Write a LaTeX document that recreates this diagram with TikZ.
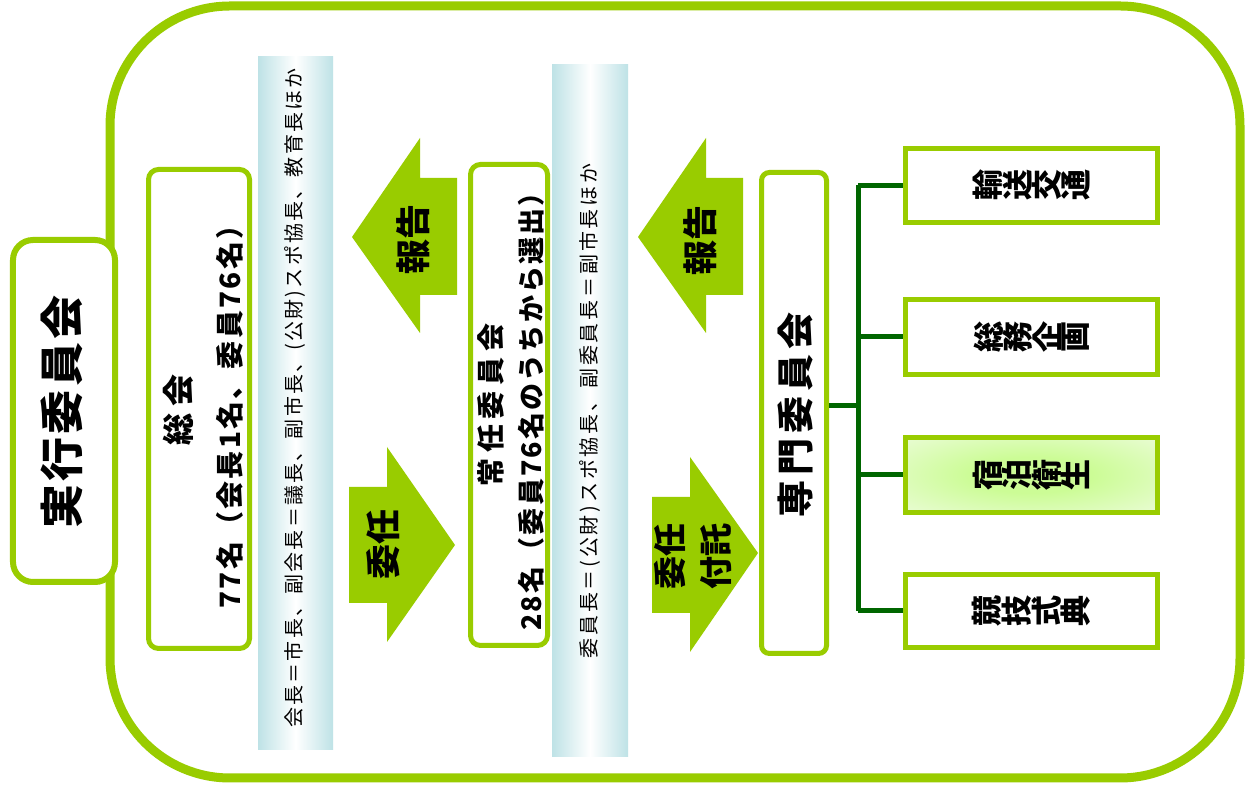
\documentclass[tikz,border=0pt]{standalone}
\usepackage{fontspec}
\setmainfont{Noto Sans CJK JP}
\definecolor{lgreen}{HTML}{99CC00}
\definecolor{dgreen}{HTML}{006600}
\definecolor{bandblue}{RGB}{190,226,230}
\definecolor{innerg}{RGB}{204,252,150}
\definecolor{outerg}{RGB}{236,252,218}
\pgfdeclareradialshading{boxglow}{\pgfpoint{0bp}{0bp}}{color(0bp)=(innerg); color(12bp)=(innerg); color(38bp)=(outerg); color(50bp)=(outerg)}
\newcommand{\fs}[2]{\fontsize{#1bp}{#2bp}\selectfont}
\newcommand{\ls}[1]{\addfontfeature{LetterSpace=#1}}
\newcommand{\rc}[1]{\rotatebox{90}{#1}}
\begin{document}
\begin{tikzpicture}[x=1bp,y=1bp,
  gbox/.style={draw=lgreen, line width=5bp, fill=white, rounded corners=10bp, inner sep=0pt},
  subbox/.style={draw=lgreen, line width=5bp, fill=white, minimum width=252bp, inner sep=0pt},
  arrowshape/.style={fill=lgreen, draw=none},
  tree/.style={draw=dgreen, line width=5bp},
  vtext/.style={rotate=90, align=center, inner sep=0pt, text=black},
  band/.style={left color=bandblue, right color=bandblue, middle color=white, draw=none}
]
\useasboundingbox (0,0) rectangle (1247,787);
\fill[white] (0,0) rectangle (1247,787);
% outer frame
\draw[lgreen, line width=9bp, rounded corners=120bp] (110,9) rectangle (1240,781);
% left box
\node[gbox, line width=6bp, rounded corners=20bp, minimum width=102bp, minimum height=342bp] (jikko) at (64,376) {};
\node[vtext, font=\bfseries\fs{44}{50}\ls{7}] (jikkot) at (62,375) {実行委員会};
% bands
\path[band] (258,37) rectangle (333,730);
\path[band] (552,30) rectangle (628,722);
\node[vtext, font=\fs{20}{24}\ls{11}] (band1) at (295,389) {会長＝市長、副会長＝議長、副市長、(公財)スポ協長、教育長ほか};
\node[vtext, font=\fs{20}{24}\ls{14}] (band2) at (590,376) {委員長＝(公財)スポ協長、副委員長＝副市長ほか};
% main boxes
\node[gbox, minimum width=101bp, minimum height=479bp] (sokai) at (199,378) {};
\node[vtext, font=\bfseries\fs{28}{50}\ls{8}] (sokait) at (203,377) {{\fs{32}{50}\ls{25}総会}\\77名（会長1名、委員76名）};
\node[gbox, minimum width=77bp, minimum height=481bp] (joninn) at (509,382) {};
\node[vtext, font=\bfseries\fs{27}{40}\ls{8}] (joninnt) at (511,382) {{\fs{28}{40}\ls{20}常任委員会}\\28名（委員76名のうちから選出）};
\node[gbox, rounded corners=8bp, minimum width=65bp, minimum height=481bp] (senmon) at (794,374) {};
\node[vtext, font=\bfseries\fs{37}{42}\ls{13}] (senmont) at (795,372) {専門委員会};
% arrows
\path[arrowshape] (352,550) -- (420,649) -- (420,609) -- (457,609) -- (457,492) -- (420,492) -- (420,454) -- cycle;
\path[arrowshape] (349,300) -- (387,300) -- (387,340) -- (455,242) -- (387,145) -- (387,184) -- (349,184) -- cycle;
\path[arrowshape] (638,550) -- (706,649) -- (706,609) -- (743,609) -- (743,492) -- (706,492) -- (706,454) -- cycle;
\path[arrowshape] (652,290) -- (690,290) -- (690,330) -- (758,234) -- (690,135) -- (690,174) -- (652,174) -- cycle;
\node[vtext, font=\bfseries\fs{35}{40}] (rep1) at (413,547) {報告};
\node[vtext, font=\bfseries\fs{35}{40}] (del1) at (383,242) {委任};
\node[vtext, font=\bfseries\fs{35}{40}] (rep2) at (700,546) {報告};
\node[vtext, font=\bfseries\fs{33}{46}] (del2) at (693,230) {委任\\付託};
% sub boxes
\node[subbox, minimum height=74bp] (b1) at (1031.5,601.5) {};
\node[subbox, minimum height=75bp] (b2) at (1031.5,450) {};
\node[subbox, minimum height=75bp, shading=boxglow] (b3) at (1031.5,312) {};
\node[subbox, minimum height=73bp] (b4) at (1031.5,176) {};
\node[inner sep=0pt, font=\bfseries\fs{31}{36}] (b1t) at (b1) {\rc{輸}\rc{送}\rc{交}\rc{通}};
\node[inner sep=0pt, font=\bfseries\fs{31}{36}] (b2t) at (b2) {\rc{総}\rc{務}\rc{企}\rc{画}};
\node[inner sep=0pt, font=\bfseries\fs{31}{36}] (b3t) at (b3) {\rc{宿}\rc{泊}\rc{衛}\rc{生}};
\node[inner sep=0pt, font=\bfseries\fs{31}{36}] (b4t) at (b4) {\rc{競}\rc{技}\rc{式}\rc{典}};
% tree
\coordinate (tj) at (858,381);
\draw[tree] (senmon.east |- tj) -- (tj);
\draw[tree] (b1.west -| tj) -- (b4.west -| tj);
\draw[tree] (b1.west -| tj) -- (b1.west);
\draw[tree] (b2.west -| tj) -- (b2.west);
\draw[tree] (b3.west -| tj) -- (b3.west);
\draw[tree] (b4.west -| tj) -- (b4.west);
\end{tikzpicture}
\end{document}
